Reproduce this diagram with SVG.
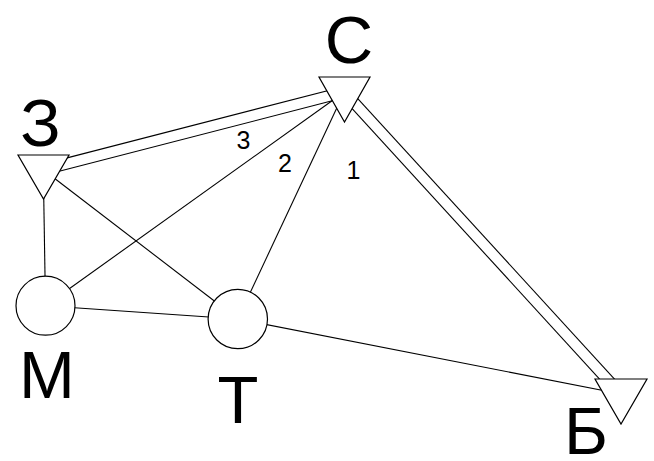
<svg xmlns="http://www.w3.org/2000/svg" width="654" height="461" viewBox="0 0 654 461">
  <style>
    .edge { stroke: #000; stroke-width: 1.1; fill: none; }
    .shape { stroke: #000; stroke-width: 1.2; fill: #fff; }
    .big { font-family: "Liberation Sans", Arial, sans-serif; font-size: 67px; fill: #000; text-anchor: middle; }
    .num { font-family: "Liberation Sans", Arial, sans-serif; font-size: 25px; fill: #000; text-anchor: middle; }
  </style>
  <rect width="654" height="461" fill="#fff"/>
  <g id="connectors">
    <!-- З – С (double) -->
    <line class="edge" x1="41.93" y1="164.38" x2="342.93" y2="86.68"/>
    <line class="edge" x1="44.67" y1="175.03" x2="345.67" y2="97.33"/>
    <!-- С – Б (double) -->
    <line class="edge" x1="348.36" y1="88.29" x2="625.06" y2="390.59"/>
    <line class="edge" x1="340.24" y1="95.71" x2="616.94" y2="398.01"/>
    <!-- single links -->
    <line class="edge" x1="45.5" y1="305.7" x2="344.3" y2="92"/>
    <line class="edge" x1="237.8" y1="319" x2="344.3" y2="92"/>
    <line class="edge" x1="43.3" y1="169.7" x2="237.8" y2="319"/>
    <line class="edge" x1="43.3" y1="169.7" x2="45.5" y2="305.7"/>
    <line class="edge" x1="45.5" y1="305.7" x2="237.8" y2="319"/>
    <line class="edge" x1="237.8" y1="319" x2="621" y2="394"/>
    <text class="num" x="243.5" y="149">3</text>
    <text class="num" x="285" y="172">2</text>
    <text class="num" x="353.5" y="179">1</text>
  </g>
  <g id="node-C">
    <polygon class="shape" points="319,77 370,77 344.5,122"/>
    <text class="big" x="349" y="62.5">С</text>
  </g>
  <g id="node-Z">
    <polygon class="shape" points="18,155 69,155 43.5,199"/>
    <text class="big" x="40.5" y="146">З</text>
  </g>
  <g id="node-M">
    <circle class="shape" cx="45.5" cy="305.7" r="29.5"/>
    <text class="big" x="47" y="397.5">М</text>
  </g>
  <g id="node-T">
    <circle class="shape" cx="237.8" cy="319" r="29.7"/>
    <text class="big" x="238" y="423">Т</text>
  </g>
  <g id="node-B">
    <polygon class="shape" points="595,379 647,379 621,424"/>
    <text class="big" x="586" y="454">Б</text>
  </g>
</svg>
